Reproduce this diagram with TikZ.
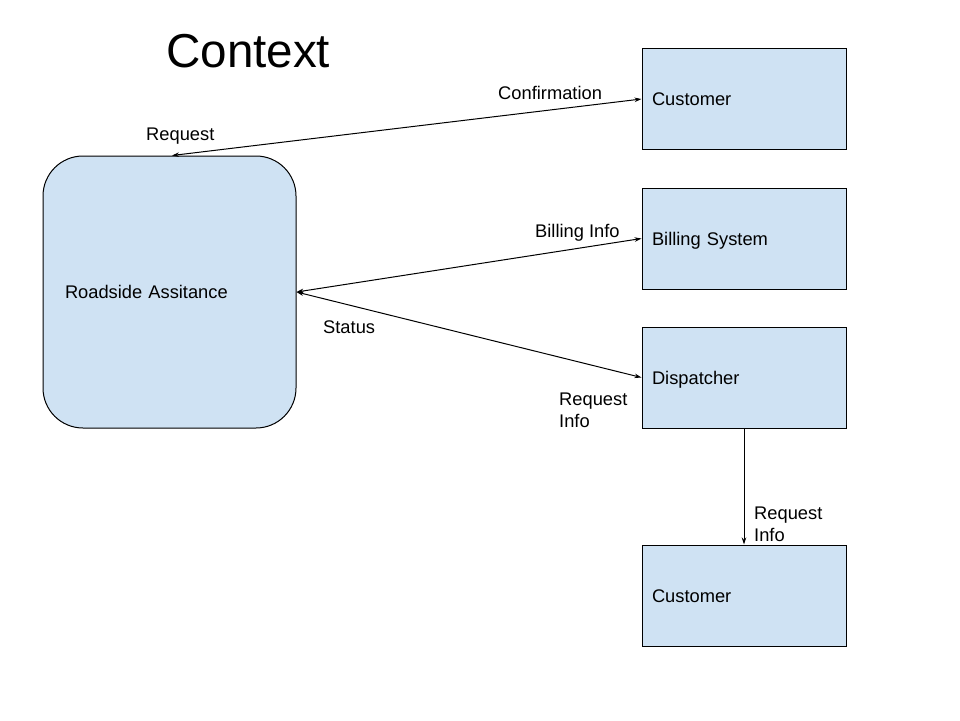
\documentclass[tikz,border=0pt]{standalone}
\usepackage{fontspec}
\setmainfont{Liberation Sans}
\usetikzlibrary{arrows.meta}
\definecolor{boxblue}{HTML}{CFE2F3}
\tikzset{
    entity/.style={draw, line width=1pt, fill=boxblue, minimum width=204, minimum height=101,
        text width=184, inner xsep=10, align=left, text height=13.1, text depth=0},
    process/.style={entity, rounded corners=40, minimum width=253, minimum height=272, text width=209, inner xsep=22},
    flowlabel/.style={anchor=base west, inner sep=0, align=left},
    flow/.style={line width=1pt, {Stealth[length=7pt,width=4.5pt]}-{Stealth[length=7pt,width=4.5pt]}},
    oneway/.style={line width=1pt, -{Stealth[length=7pt,width=4.5pt]}}
}
\begin{document}
\begin{tikzpicture}[x=1pt, y=-1pt, font=\fontsize{18.3}{22}\selectfont]
    \useasboundingbox[fill=white] (0,0) rectangle (960,720);
    % title
    \node (title) [anchor=base west, inner sep=0, font=\fontsize{47.6}{56}\selectfont] at (166,67) {Context};
    % boxes
    \node (roadside) [process] at (169.5,292) {Roadside Assitance};
    \node (custtop) [entity] at (744,99) {Customer};
    \node (billing) [entity] at (744,238.5) {Billing System};
    \node (dispatch) [entity] at (744,377.5) {Dispatcher};
    \node (custbot) [entity] at (744,595.5) {Customer};
    % connectors
    \draw [flow] ([xshift=2.5]roadside.north) -- (custtop.west);
    \draw [flow] (roadside.east) -- (billing.west);
    \draw [flow] (roadside.east) -- (dispatch.west);
    \draw [oneway] (dispatch.south) -- (custbot.north);
    % labels (multi-line ones sit on the baseline of their last line)
    \node (lreq) [flowlabel] at (146,140) {Request};
    \node (lconf) [flowlabel] at (498,99) {Confirmation};
    \node (lbill) [flowlabel] at (535,237) {Billing Info};
    \node (lstat) [flowlabel] at (323,333) {Status};
    \node (lreqinfo) [flowlabel] at (559,427) {Request\\Info};
    \node (ldisp) [flowlabel] at (754,541) {Request\\Info};
\end{tikzpicture}
\end{document}
